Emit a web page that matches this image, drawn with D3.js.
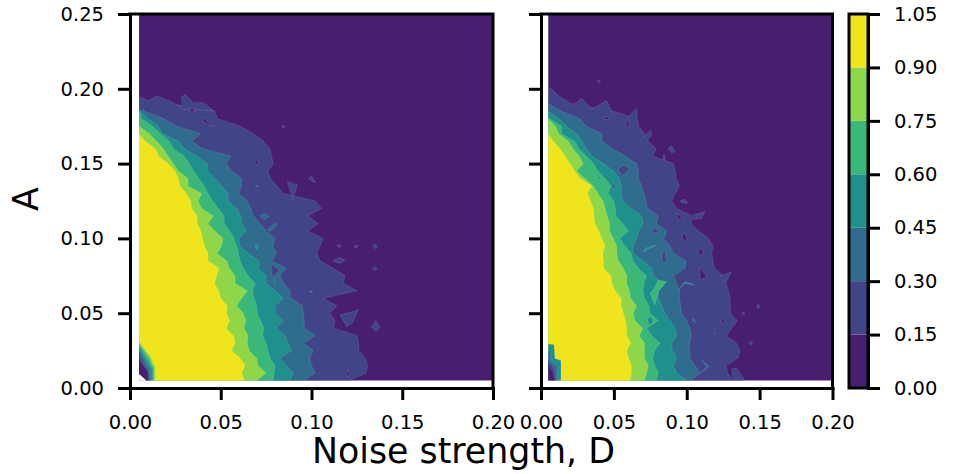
<!DOCTYPE html>
<html>
<head>
<meta charset="utf-8">
<script src="https://cdn.jsdelivr.net/npm/d3@7"></script>
<style>
  html, body { margin: 0; padding: 0; background: #fff; }
  svg { display: block; }
  text { font-family: "DejaVu Sans", sans-serif; fill: #000; }
</style>
</head>
<body>
<svg id="chart" width="956" height="474"></svg>
<script>
// contour levels and their fill colours
const levels = [0, 0.15, 0.3, 0.45, 0.6, 0.75, 0.9, 1.05];
const colors = ["#481f70", "#414487", "#2f6c8e", "#20908c", "#3bb77a", "#8fd748", "#f0e51c"];
const xTicks = [0, 0.05, 0.1, 0.15, 0.2];
const yTicks = [0, 0.05, 0.1, 0.15, 0.2, 0.25];
const cbarTicks = [0, 0.15, 0.3, 0.45, 0.6, 0.75, 0.9, 1.05];

// sampling of the grid: first value and step, both axes
const gridStart = 0.005;
const gridStep = 0.005;
const gridEnd = 0.2;
const gridTop = 0.25;

// D (x 1000) where the surface crosses each level, one entry per A row from A = 0.005 up
const left015 = [121,130,131,129.5,126,126,125,112,113,110,114,106.5,125,117.5,118.5,112,104.7,103,104.7,106.5,98,103.8,98,105.6,102,84.5,81,77.5,76,79,78,77,73.5,68,60.6,48,46.8,23];
const left030 = [95.5,102,100,99,101,95.5,102,96,96,95.5,95,88.5,88,84.5,82.6,86,78,80.8,78.6,80,75,71.6,68,66.5,64.6,59.7,61.5,61.5,56,53,55.5,40,34,38.6,25.7,18.7,7.7,5];
const left045 = [88,90,86,82.6,89,87,85.4,80.8,84.5,80,80,84.5,80,75,75,70.7,71,65,60.6,60,64,61.5,61,58.8,54,54,50.5,46.8,42.6,42.6,36.7,30,26.6,18,15.6,10,5.9];
const left060 = [79,79.3,79.9,77,76,75,73,73.8,72,70,69.8,68.3,67.6,69,65,62.4,60.6,59.7,58.8,57.3,55,52,51.8,48.7,45.5,43,41,38,35,32.7,29.8,23.9,21.7,16.9,12.5,6.4,5];
const left075 = [69.8,75,70.5,69.8,65.7,64.6,65,62.8,63.9,62.4,58.8,61.5,64.8,57.9,57.9,54.7,53.3,48,50.5,51.4,46.8,43,46,39.5,37.6,39.5,32,32,26.6,23.9,21,18.4,14.7,10.7,5];
const left090 = [63,61.5,63.4,60.6,56,57.9,57,53,55,53,53.6,50,48.9,46.5,47.8,49,43,43,41,40,39,37,37,34,33.4,31,27.5,26.6,24.8,21,15.8,14,8.3,5];

const right015 = [131,128,127,135,136.5,134,127,130.8,134.7,130,130,129.6,128.5,127,125,119,118,117,118,114.8,108,103,104,93,89.6,92,95,92.6,92,90.8,76.6,79,73.6,71,66.8,66,49.6,21,12.4,7];
const right030 = [103,109,105.6,102,102,102,103,102,100,96.5,95.8,95,95,93,90.8,98.8,99.5,90.8,88.5,84,86.6,79,80.5,73,72,70.6,69,66.8,66.8,65.6,57.6,49,41.6,41.6,31,26.7,14,5];
const right045 = [100,93,90.8,93,90,89.6,93,92,88.5,85,82.8,80.5,80.5,84,77,76,70,63,63,65.6,66.8,70,69,62,56,55,55,53.7,49.6,43,34.8,31,28,24.5,17.6,12,5];
const right060 = [79,80.5,78,76.6,78,81.6,76,72.5,80.5,74.8,74,71,70,70.6,72.5,66.8,63,62,57.6,54,60,56,51.4,51,50,46,48,44,39,36,31,26,23,14,14,6];
const right075 = [71,72.5,73.6,71,71,71,67.4,69.7,64.5,63.3,65.6,61.5,60.6,58.8,59,56.5,53,52,52,49.6,47,47,45.5,44,42.8,39,36,30,24.5,29,26,22,18.7,12,10,5];
const right090 = [61,62,62,60,58.8,61.7,58.8,58.8,58,56.5,55,55,51,48.5,48,43,42.8,42.3,44,41.6,39.8,37,36.4,36,34,31.8,34.8,27,23,20,16.5,13,8.5,5];

// islands, holes and notches: [level index, then D,A pairs x 1000]; -1 is unsampled (blank)
const leftIslands = [
  [1, 5,186, 5,194.7, 10.1,192, 14.7,195.2, 23,191.4, 29.4,186.3],
  [1, 27.9,193.6, 30.3,196.3, 34.9,190.7, 40.4,190.7, 46,185.5, 29.4,186.3],
  [0, 32.5,185.8, 34.3,186.9, 36.4,185.4, 34,184.5, 32.5,185.8],
  [0, 39.5,181.4, 44,176.9, 46.3,174.7, 40.4,178, 39.5,181.4],
  [1, 83.6,175.1, 84.5,175.7, 85.4,174.2, 84.5,174.2, 83.6,175.1],
  [1, 98.3,140.2, 100.1,141.7, 102.3,137.3, 100.1,138.4, 98.3,140.2],
  [1, 86.7,137.9, 92.2,135.7, 89.6,125.7, 88.2,132.4, 86.7,137.9],
  [0, 68.9,151.3, 69.8,152.9, 71.1,149.7, 68.9,149.7, 68.9,151.3],
  [2, 71.6,115, 74.4,116.8, 76.6,114.5, 74.4,112.7, 71.6,115],
  [2, 75.3,105.6, 79.9,110.5, 81.2,109.6, 77.1,104.5],
  [2, 68.9,134.6, 69.8,135.7, 70.7,134.6, 68.9,134.6],
  [1, 113.9,95.1, 115.2,95.8, 116.4,94.9, 115.2,94, 113.9,95.1],
  [1, 123.4,94.5, 125.3,95.8, 125.8,94.9, 124.5,93.6, 123.4,94.5],
  [1, 133.5,94.9, 135,96.3, 136.3,94.5, 135,93.1, 133.5,94.9],
  [1, 112,85.1, 115.3,87.3, 118.6,85.6, 115.3,83.3, 112,85.1],
  [1, 133.5,80, 135,81.1, 136.3,79.5, 135,78.4, 133.5,80],
  [1, 115.7,48.8, 125.8,52.1, 122.5,43.2, 119.4,41, 115.7,48.8],
  [1, 133.1,41, 135.4,45, 137.7,41, 135.5,37.7, 133.1,41],
  [0, 119.4,9.8, 120.1,12.5, 120.8,9.8, 120.1,7.1, 119.4,9.8],
  [3, 68.9,94.9, 69.8,96.3, 70.9,94.5, 69.8,92.3, 68.9,94.9],
  [1, 77.5,83.3, 82.6,78.8, 79.3,74.3, 79.9,68.9, 78,76.9, 77.5,83.3],
  [2, 98.8,64.4, 100.6,65.5, 100.1,63.7, 98.8,64.4],
  // low corner near the origin
  [5, 5,31, 11.4,20.9, 14,13.8, 14,5, 5,5],
  [4, 5,29.9, 10.7,19.8, 13.2,13.1, 13.2,5, 5,5],
  [3, 5,28.3, 9.5,18.7, 12.5,12.5, 12.5,5, 5,5],
  [2, 5,27, 8.4,17.6, 11.4,11.6, 11.4,5, 5,5],
  [1, 5,25, 7.3,16.5, 10.7,10.2, 10.7,5, 5,5],
  [0, 5,21.4, 6.2,17, 9.9,10.9, 9.9,5, 5,5],
  [-1, 5,9.4, 9.2,4.9, 5,4.9]
];

const rightIslands = [
  [1, 38.6,205, 39.8,205.9, 40.9,205, 39.8,204.1, 38.6,205],
  [1, 22.2,189.2, 27.9,193.6, 34.8,186.3, 45,192.1, 49.6,182.5],
  [0, 42.8,180.3, 45,181.4, 47.3,180, 45,179.4, 42.8,180.3],
  [0, 58.3,176.9, 59.4,180.3, 60.6,175.8, 59.4,173.6, 58.3,176.9],
  [1, 59.9,181.4, 65.6,186.9, 66,180],
  [1, 69.7,166.9, 75.2,172.5, 75.9,169.1, 72.5,164.7],
  [1, 87.3,160.2, 89.6,161.8, 91.9,158, 89.6,157.3, 87.3,160.2],
  [1, 83.9,155.7, 85,155.7, 85,152.4, 83.9,152.4, 83.9,155.7],
  [1, 95.3,125.2, 98.8,126.1, 100.4,123.4, 96.5,123.9, 95.3,125.2],
  [0, 92.6,116.8, 97.6,113.4, 94.2,112.7, 92.6,116.8],
  [1, 104.5,115.6, 112.5,117.9, 110.2,113.4, 104.5,112.7],
  [1, 53,146.4, 56.5,149.1, 61,146.8, 56.9,142.4, 53.7,143.5, 53,146.4],
  [1, 75.2,103.8, 78.2,107.8, 81.2,104.5, 75.9,103.4, 75.2,103.8],
  [2, 48.5,135, 50,137.3, 51.4,134.6, 50,132.8, 48.5,135],
  [3, 38.9,140.4, 39.8,141.3, 40.9,140.2, 39.8,139.3, 38.9,140.4],
  [0, 96.5,102.3, 98.8,103, 100.4,99, 98.1,98.5, 96.5,102.3],
  [0, 107.5,91.1, 109.8,93.4, 111.3,91.1, 109.5,88.2, 107.5,91.1],
  [0, 109.1,80.7, 113.6,74.4, 109.1,72.2, 109.1,80.7],
  [1, 82.8,88.9, 85,92.7, 86.2,84.4, 83.2,83.8, 82.8,88.9],
  [3, 70.2,91.1, 79.3,95.6, 71.3,93.4, 70.2,91.1],
  [4, 80.5,72.2, 86.2,71.1, 80.5,64.4, 78.2,55.5, 74.8,63.3, 77.1,65.6, 80.5,72.2],
  [3, 72.9,45.5, 74.8,48.1, 77.1,45, 74.8,41.4, 72.9,45.5],
  [3, 94.2,65.5, 98.8,71.1, 105.6,68.9, 98.8,70, 94.2,65.5],
  [0, 118.7,39.9, 120,39.9, 119.3,35.4, 118.7,39.9],
  [0, 123.5,45.5, 124.6,46.3, 126,44.6, 124.6,43.2, 123.5,45.5],
  [2, 103.6,45, 104.5,46.6, 106.1,43.7, 103.6,45],
  [0, 88.5,49.9, 90,51, 91.2,49.5, 88.5,49.9],
  [1, 137.9,49.9, 139,50.8, 140.1,49.5, 139,48.6, 137.9,49.9],
  [1, 147.9,54.8, 149.3,56.1, 150.2,53.9, 149.1,53, 147.9,54.8],
  [1, 142.7,30.3, 144,31.4, 145.2,29.9, 143.8,28.7, 142.7,30.3],
  [2, 110.2,18.7, 115.5,14.3, 109.1,9.8, 113.7,14.3, 110.2,18.7],
  [1, 122.8,74.4, 130.8,77.8, 127.3,71.1, 124,71.1],
  [1, 130.8,13.1, 134.2,13.1, 139.9,5, 130.8,5],
  // low corner near the origin
  [3, 5,29.4, 8.9,29, 9.6,19.8, 13.7,18.3, 13.7,5, 5,5],
  [2, 5,25, 6.2,25.4, 7.1,17.6, 11.2,14.3, 11.2,5, 5,5],
  [1, 5,21.4, 5.7,17.6, 9.6,12, 10.3,5, 5,5],
  [0, 5,16.5, 8.5,9.8, 9.6,5, 5,5]
];

const xLabel = "Noise strength, D";
const yLabel = "A";

const svg = d3.select("#chart");
const top_ = 14, bottom_ = 388;
const yScale = d3.scaleLinear().domain([0, 0.25]).range([bottom_, top_]);
const cScale = d3.scaleLinear().domain([0, 1.05]).range([bottom_, top_]);

const tickFont = 19.5, lineW = 3, tickLen = 12;

function styleAxis(g) {
  g.selectAll("path").attr("stroke", "#000").attr("stroke-width", lineW).attr("stroke-linecap", "square");
  g.selectAll("line").attr("stroke", "#000").attr("stroke-width", lineW);
  g.selectAll("text").style("font-size", tickFont + "px").attr("fill", "#000");
}

function panel(x0, x1, crossings, islands, showY) {
  const xScale = d3.scaleLinear().domain([0, 0.2]).range([x0, x1]);
  const g = svg.append("g");

  const toPath = d3.line().x(d => xScale(d[0])).y(d => yScale(d[1]));
  const seam = "rgba(255,255,255,0.22)";

  // bottom layer covers the whole sampled grid
  g.append("path")
    .attr("d", toPath([[gridStart, gridStart], [gridEnd, gridStart], [gridEnd, gridTop], [gridStart, gridTop]]) + "Z")
    .attr("fill", colors[0]);

  // each higher level filled from the left edge to its crossing
  crossings.forEach((row, i) => {
    const area = d3.area()
      .y((d, k) => yScale(gridStart + k * gridStep))
      .x0(xScale(gridStart))
      .x1(d => xScale(d / 1000));
    g.append("path")
      .attr("d", area(row))
      .attr("fill", colors[i + 1])
      .attr("stroke", seam)
      .attr("stroke-width", 0.5);
  });

  // left open so the closing edge, inside the parent layer, gets no seam
  islands.forEach(item => {
    const pts = d3.pairs(item.slice(1)).filter((d, k) => k % 2 === 0).map(d => [d[0] / 1000, d[1] / 1000]);
    g.append("path")
      .attr("d", toPath(pts))
      .attr("fill", item[0] < 0 ? "#fff" : colors[item[0]])
      .attr("stroke", item[0] < 0 ? "none" : seam)
      .attr("stroke-width", 0.5);
  });

  // spines and ticks
  const xAxis = d3.axisBottom(xScale).tickValues(xTicks).tickFormat(d3.format(".2f"))
    .tickSize(tickLen).tickPadding(15).tickSizeOuter(0);
  const yAxis = d3.axisLeft(yScale).tickValues(yTicks).tickFormat(showY ? d3.format(".2f") : "")
    .tickSize(tickLen).tickPadding(14).tickSizeOuter(0);

  svg.append("g").attr("transform", `translate(0,${bottom_})`).call(xAxis).call(styleAxis);
  svg.append("g").attr("transform", `translate(${x0},0)`).call(yAxis).call(styleAxis);

  svg.append("path")
    .attr("d", `M${x0},${top_}H${x1}V${bottom_}`)
    .attr("fill", "none").attr("stroke", "#000").attr("stroke-width", lineW).attr("stroke-linecap", "square");
}

panel(130, 493, [left015, left030, left045, left060, left075, left090], leftIslands, true);
panel(541, 832.5, [right015, right030, right045, right060, right075, right090], rightIslands, false);

// colour bar
const cbarX0 = 849, cbarX1 = 868;
svg.append("g").selectAll("rect")
  .data(colors)
  .enter()
  .append("rect")
  .attr("x", cbarX0)
  .attr("width", cbarX1 - cbarX0)
  .attr("y", (d, i) => cScale(levels[i + 1]))
  .attr("height", (d, i) => cScale(levels[i]) - cScale(levels[i + 1]))
  .attr("fill", d => d);

svg.append("g")
  .attr("transform", `translate(${cbarX1},0)`)
  .call(d3.axisRight(cScale).tickValues(cbarTicks).tickFormat(d3.format(".2f")).tickSize(tickLen).tickPadding(14).tickSizeOuter(0))
  .call(styleAxis);

svg.append("rect")
  .attr("x", cbarX0).attr("y", top_)
  .attr("width", cbarX1 - cbarX0).attr("height", bottom_ - top_)
  .attr("fill", "none").attr("stroke", "#000").attr("stroke-width", lineW);

// axis titles
svg.append("text")
  .attr("x", 463.5).attr("y", 463)
  .attr("text-anchor", "middle")
  .style("font-size", "34.8px")
  .text(xLabel);

svg.append("text")
  .attr("transform", "translate(38,199) rotate(-90)")
  .attr("text-anchor", "middle")
  .style("font-size", "34.8px")
  .text(yLabel);
</script>
</body>
</html>
